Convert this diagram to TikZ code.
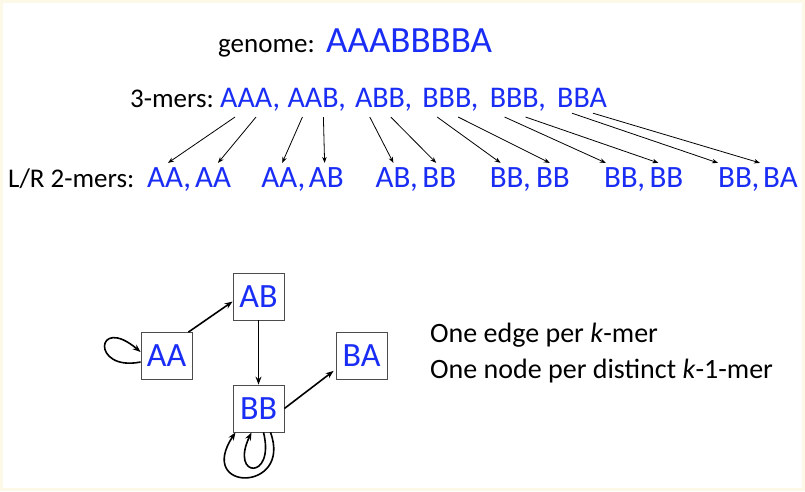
\documentclass[tikz,border=0pt]{standalone}
\usepackage{fontspec}
\setmainfont{Carlito}
\usetikzlibrary{arrows.meta,calc}

\definecolor{kblue}{RGB}{25,45,245}
\definecolor{cream}{RGB}{252,249,232}

\tikzset{
  lbl/.style={inner sep=0pt, anchor=base west, font=\fontsize{27}{32}\selectfont},
  note/.style={inner sep=0pt, anchor=base west, font=\fontsize{28}{34}\selectfont},
  seq/.style={inner sep=0pt, anchor=base west, text=kblue, font=\fontsize{37}{44}\selectfont},
  kmer/.style={inner sep=0pt, anchor=base west, text=kblue, font=\fontsize{30}{36}\selectfont},
  twomer/.style={inner sep=0pt, anchor=base west, text=kblue, font=\fontsize{31}{37}\selectfont},
  knode/.style={draw=black!70, fill=white, line width=0.8pt, minimum width=51pt,
    minimum height=47pt, inner sep=0pt, text=kblue, font=\fontsize{34}{40}\selectfont},
  split/.style={-{Stealth[length=6pt,width=4.5pt]}, line width=0.8pt},
  edge/.style={-{Stealth[length=8pt,width=6pt]}, line width=1.6pt}
}

\begin{document}
\begin{tikzpicture}[x=1pt,y=-1pt]
\fill[cream] (0,0) rectangle (805,491);
\fill[white] (3,3) rectangle (802,488);
\useasboundingbox (0,0) rectangle (805,491);

% genome
\node[lbl] (glbl) at (218,52) {genome:};
\node[seq] (genome) at (326,52) {AAABBBBA};

% 3-mers
\node[lbl] (klbl) at (130,107) {3-mers:};
\foreach \m/\p [count=\i] in {AAA/{,},AAB/{,},ABB/{,},BBB/{,},BBB/{,},BBA/{}}
  \node[kmer] (k\i) at ({220+67.4*(\i-1)},107) {\m\p};

% left/right 2-mers
\node[lbl] (tlbl) at (8,187) {L/R 2-mers:};
\foreach \a/\b [count=\i] in {AA/AA,AA/AB,AB/BB,BB/BB,BB/BB,BB/BA} {
  \node[twomer] (l\i) at ({147+114.2*(\i-1)},187) {\a,};
  \node[twomer] (r\i) at ({195+113.6*(\i-1)},187) {\b};
}

% split each 3-mer
\foreach \i/\a/\b in {1/21/23,2/21/16,3/18/14,4/11/14,5/2/9,6/0/-3} {
  \draw[split] ($(k\i.south west)+(15,6)$) -- ($(l\i.north west)+(\a,-4)$);
  \draw[split] ($(k\i.south west)+(36,6)$) -- ($(r\i.north west)+(\b,-4)$);
}

% de Bruijn graph
\node[knode] (AA) at (166.5,356) {AA};
\node[knode] (AB) at (258.5,296.5) {AB};
\node[knode] (BA) at (361.5,356) {BA};
\node[knode] (BB) at (258.5,408.5) {BB};

\draw[edge] ($(AA.north east)+(-4,0)$) -- ($(AB.west)+(0,5)$);
\draw[edge] (AB) -- (BB);
\draw[edge] (BB.east) -- ($(BA.south west)+(-2,-9)$);
\draw[edge] ($(AA.west)+(0,6)$) .. controls +(-50,10) and +(-45,-38) .. ($(AA.west)+(0,-4)$);
\draw[edge] ($(BB.south)+(5,0)$) .. controls +(12,48) and +(-22,46) .. ($(BB.south)+(-7,0)$);
\draw[edge] ($(BB.south)+(12,0)$) .. controls +(22,60) and +(-40,60) .. ($(BB.south)+(-23,0)$);

% notes
\node[note] (note1) at (430,342) {One edge per \textit{k}-mer};
\node[note] (note2) at (430,378) {One node per distinct \textit{k}-1-mer};
\end{tikzpicture}
\end{document}
